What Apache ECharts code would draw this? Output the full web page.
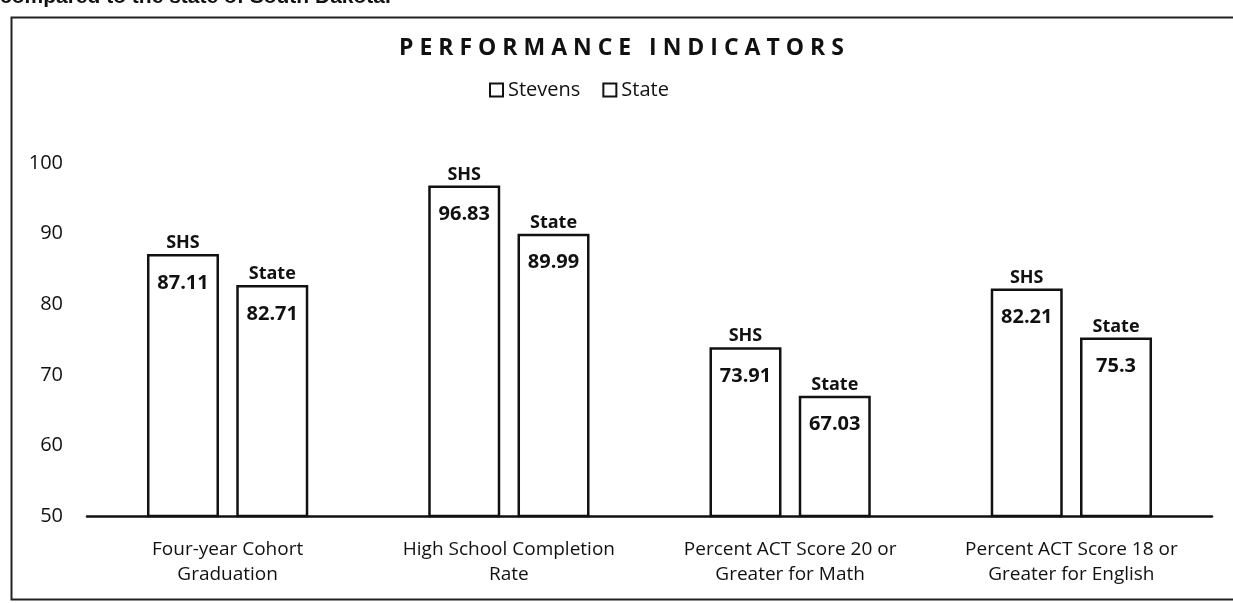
<!DOCTYPE html>
<html>
<head>
<meta charset="utf-8">
<script src="https://cdn.jsdelivr.net/npm/echarts@6/dist/echarts.min.js"></script>
<style>
    html, body {margin: 0; padding: 0; background: #fff;}
    #performanceChart {width: 1233px; height: 603px;}
</style>
</head>
<body>
<div id="performanceChart"></div>
<script>
// 图表数据
const categories = [
    'Four-year Cohort\nGraduation',
    'High School Completion\nRate',
    'Percent ACT Score 20 or\nGreater for Math',
    'Percent ACT Score 18 or\nGreater for English',
]
const seriesNames = ['Stevens', 'State']
const barTags = ['SHS', 'State']
const stevensValues = [87.11, 96.83, 73.91, 82.21]
const stateValues = [82.71, 89.99, 67.03, 75.3]
const yTicks = [50, 60, 70, 80, 90, 100]

const chartTitle = 'PERFORMANCE INDICATORS'
const headerText = 'compared to the state of South Dakota.'

const inkColor = '#111'
const baseFont = '"Open Sans", "DejaVu Sans", sans-serif'

// 标题字间距（画布不支持 letterSpacing，用空格拉开）
const spacedTitle = chartTitle.split('').join(' ')

// 柱子标签：上方为 SHS/State，柱内顶部为数值
const barLabel = (tag) => {
    return {
        show: true,
        position: 'insideTop',
        distance: 0,
        offset: [0, -22],
        formatter: (p) => `{n|${tag}}\n{g| }\n{v|${p.value}}`,
        rich: {
            n: {fontSize: 18, fontWeight: 'bold', fontFamily: baseFont, color: inkColor, lineHeight: 22},
            g: {fontSize: 4, lineHeight: 18},
            v: {fontSize: 20, fontWeight: 'bold', fontFamily: baseFont, color: inkColor, lineHeight: 22},
        },
    }
}

const barSeries = (idx, values) => {
    return {
        name: seriesNames[idx],
        type: 'bar',
        barWidth: 72,
        barGap: '24%',
        data: values,
        itemStyle: {
            color: '#fff',
            borderColor: inkColor,
            borderWidth: 2.5,
        },
        label: barLabel(barTags[idx]),
        emphasis: {disabled: true},
        animation: false,
    }
}

const initialChart = () => {
    const chart = echarts.init(document.getElementById('performanceChart'))

    let option = {
        backgroundColor: '#fff',
        animation: false,
        title: {
            text: spacedTitle,
            left: 394,
            top: 32,
            textStyle: {
                fontSize: 23,
                fontWeight: 'bold',
                fontFamily: baseFont,
                color: inkColor,
            },
        },
        legend: {
            data: seriesNames,
            left: 484,
            top: 75,
            icon: 'rect',
            itemWidth: 13,
            itemHeight: 13,
            itemGap: 22,
            itemStyle: {
                color: '#fff',
                borderColor: inkColor,
                borderWidth: 2,
            },
            textStyle: {
                fontSize: 20,
                fontFamily: baseFont,
                color: inkColor,
            },
        },
        grid: {
            left: 87,
            right: 21,
            top: 163,
            bottom: 87,
            containLabel: false,
        },
        xAxis: {
            type: 'category',
            data: categories,
            axisLine: {
                show: true,
                lineStyle: {color: inkColor, width: 2.5},
            },
            axisTick: {show: false},
            axisLabel: {
                margin: 21,
                fontSize: 19,
                lineHeight: 25,
                fontFamily: baseFont,
                color: inkColor,
            },
        },
        yAxis: {
            type: 'value',
            min: yTicks[0],
            max: yTicks[yTicks.length - 1],
            interval: yTicks[1] - yTicks[0],
            axisLine: {show: false},
            axisTick: {show: false},
            splitLine: {show: false},
            axisLabel: {
                margin: 24,
                fontSize: 20,
                fontFamily: baseFont,
                color: inkColor,
            },
        },
        series: [
            barSeries(0, stevensValues),
            barSeries(1, stateValues),
        ],
        // 扫描件的外框和被裁掉的上一行文字
        graphic: [
            {
                type: 'text',
                left: 0,
                top: -13,
                silent: true,
                style: {
                    text: headerText,
                    font: 'bold 21px "Liberation Sans", sans-serif',
                    fill: inkColor,
                },
            },
            {
                type: 'rect',
                left: 9,
                top: 15,
                silent: true,
                shape: {width: 1240, height: 582},
                style: {fill: 'none', stroke: '#222', lineWidth: 2},
            },
        ],
    }
    chart.setOption(option)
}

initialChart()
</script>
</body>
</html>
